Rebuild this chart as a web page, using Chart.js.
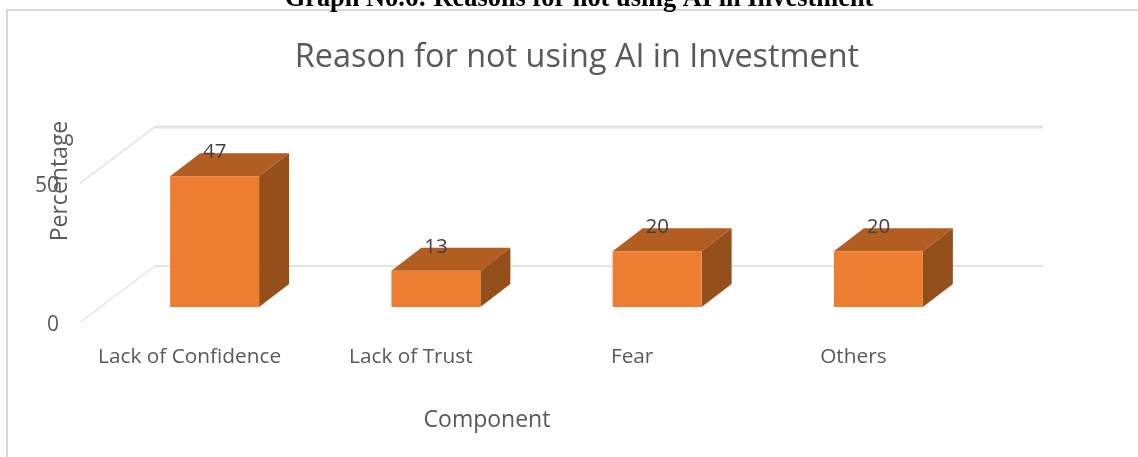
<!DOCTYPE html>
<html><head><meta charset="utf-8">
<style>html,body{margin:0;padding:0;background:#fff;overflow:hidden}#w{position:absolute;left:0;top:0;width:1138px;height:457px}</style>
<script src="https://cdn.jsdelivr.net/npm/chart.js@4"></script>
</head><body><div id="w"><canvas id="c" width="1138" height="457"></canvas></div>
<script>
const categories = ["Lack of Confidence", "Lack of Trust", "Fear", "Others"];
const percentages = [47, 13, 20, 20];
const yTicks = [0, 50];
const chartTitle = "Reason for not using AI in Investment";
const pageHeading = "Graph No.6: Reasons for not using AI in Investment";
const xTitle = "Component";
const yTitle = "Percentage";

const FONT = '"Open Sans", sans-serif';
const DX = 30, DY = 23;
const GRID = '#e4e4e4', TEXT = '#595959';

const solid3d = {
  id: 'solid3d',
  beforeDraw(chart) {
    const c = chart.ctx;
    c.save();
    c.strokeStyle = '#d9d9d9'; c.lineWidth = 2;
    c.beginPath(); c.moveTo(1140, 10); c.lineTo(7, 10); c.lineTo(7, 460); c.stroke();
    c.fillStyle = '#000'; c.font = 'bold 26.4px "Liberation Serif", serif';
    c.textAlign = 'center'; c.textBaseline = 'alphabetic';
    c.fillText(pageHeading, 579, 6);
    c.restore();
  },
  beforeDatasetsDraw(chart) {
    const c = chart.ctx, y = chart.scales.y, a = chart.chartArea;
    c.save();
    yTicks.forEach((v, i) => {
      const p = y.getPixelForValue(v);
      c.strokeStyle = GRID;
      c.lineWidth = i ? 3 : 2;
      c.beginPath();
      c.moveTo(a.right + 54, p - 41);
      c.lineTo(a.left + 51, p - 41);
      c.stroke();
      c.lineWidth = 1.5;
      c.beginPath();
      c.moveTo(a.left + 51, p - 41);
      c.lineTo(a.left - 24, p + 15.5);
      c.stroke();
    });
    const bars = chart.getDatasetMeta(0).data;
    bars.forEach(b => {
      const l = b.x - b.width / 2, r = b.x + b.width / 2, t = b.y, bt = b.base;
      c.fillStyle = '#b25d22';
      c.beginPath(); c.moveTo(l, t); c.lineTo(l + DX, t - DY); c.lineTo(r + DX, t - DY); c.lineTo(r, t); c.closePath(); c.fill();
      c.fillStyle = '#954f1b';
      c.beginPath(); c.moveTo(r, t); c.lineTo(r + DX, t - DY); c.lineTo(r + DX, bt - DY); c.lineTo(r, bt); c.closePath(); c.fill();
    });
    c.restore();
  },
  afterDatasetsDraw(chart) {
    const c = chart.ctx;
    c.save();
    c.textAlign = 'center'; c.textBaseline = 'middle';
    c.fillStyle = '#404040'; c.font = '20.5px ' + FONT;
    chart.getDatasetMeta(0).data.forEach((b, i) => c.fillText(String(percentages[i]), b.x, b.y - 24));
    c.fillStyle = TEXT; c.font = '23px ' + FONT;
    c.fillText(xTitle, 487, 420);
    c.translate(60, 181); c.rotate(-Math.PI / 2);
    c.fillText(yTitle, 0, 0);
    c.restore();
  }
};

new Chart(document.getElementById('c'), {
  type: 'bar',
  data: { labels: categories, datasets: [{ label: yTitle, data: percentages, backgroundColor: '#ed7d31', borderWidth: 0, barPercentage: 0.402, categoryPercentage: 1 }] },
  options: {
    responsive: false, animation: false,
    layout: { padding: { left: 16, right: 0, top: 0, bottom: 0 } },
    plugins: {
      legend: { display: false }, tooltip: { enabled: false },
      title: { display: true, text: chartTitle, color: TEXT, font: { family: FONT, size: 32.4, weight: 'normal' }, padding: { top: 38, bottom: 91 } }
    },
    scales: {
      x: {
        grid: { display: false }, border: { display: false },
        ticks: { color: TEXT, font: { family: FONT, size: 20.8 }, padding: 30, labelOffset: -25, maxRotation: 0, autoSkip: false },
        afterFit(s) { s.height = 150; }
      },
      y: {
        min: 0, max: 50,
        grid: { display: false }, border: { display: false },
        ticks: { color: TEXT, font: { family: FONT, size: 21 }, stepSize: 50, padding: 37, labelOffset: 18 },
        afterFit(s) { s.width = 88; }
      },
      y2: {
        position: 'right', display: true,
        grid: { display: false }, border: { display: false }, ticks: { display: false },
        afterFit(s) { s.width = 149; }
      }
    }
  },
  plugins: [solid3d]
});
</script></body></html>
